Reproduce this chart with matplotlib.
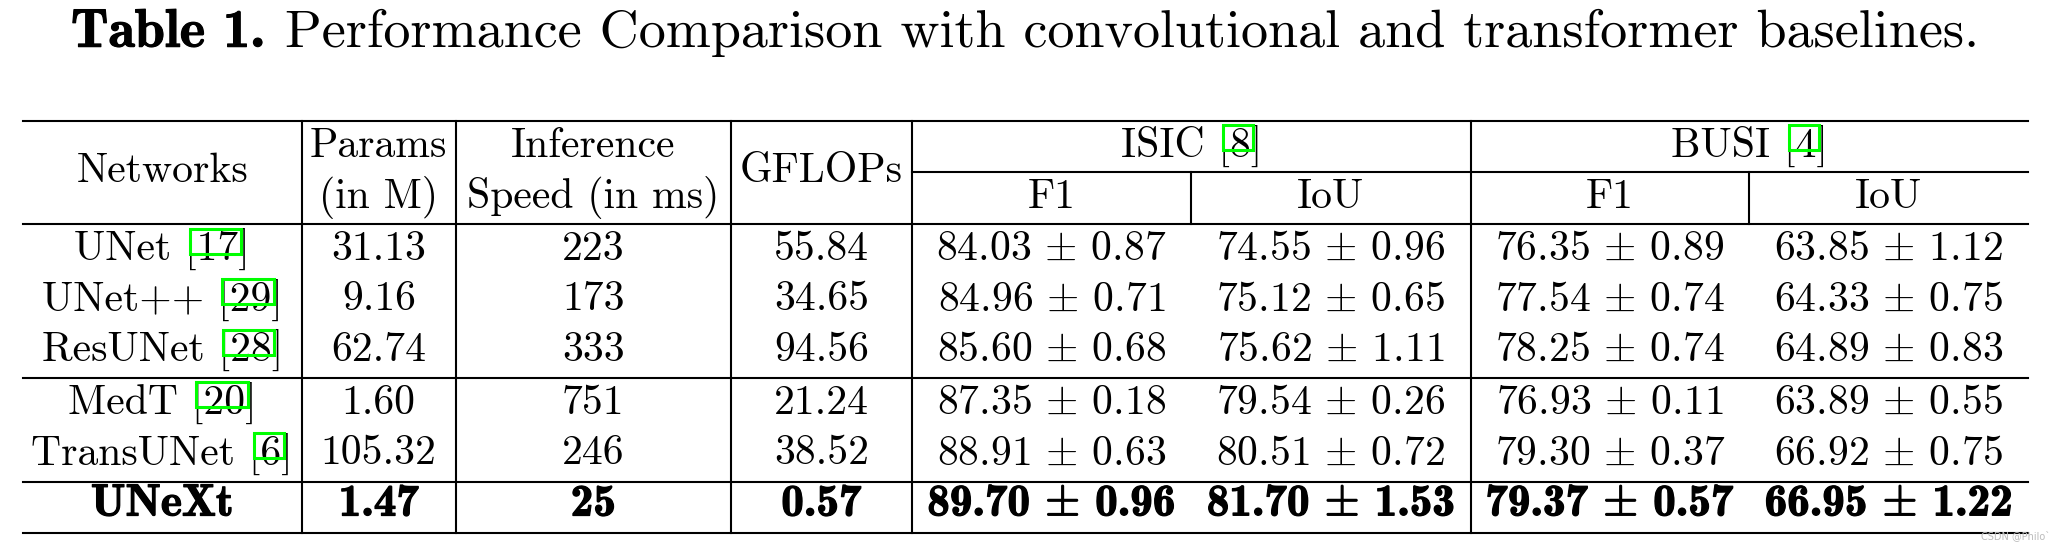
import matplotlib
matplotlib.use("Agg")
import matplotlib.pyplot as plt
import matplotlib.patheffects as pe
from matplotlib.patches import Rectangle

plt.rcParams["mathtext.fontset"] = "cm"

# table data
networks = ["UNet", "UNet++", "ResUNet", "MedT", "TransUNet", "UNeXt"]
refs = ["17", "29", "28", "20", "6", None]
params = ["31.13", "9.16", "62.74", "1.60", "105.32", "1.47"]
speed = ["223", "173", "333", "751", "246", "25"]
gflops = ["55.84", "34.65", "94.56", "21.24", "38.52", "0.57"]
isic_f1 = ["84.03 ± 0.87", "84.96 ± 0.71", "85.60 ± 0.68", "87.35 ± 0.18", "88.91 ± 0.63", "89.70 ± 0.96"]
isic_iou = ["74.55 ± 0.96", "75.12 ± 0.65", "75.62 ± 1.11", "79.54 ± 0.26", "80.51 ± 0.72", "81.70 ± 1.53"]
busi_f1 = ["76.35 ± 0.89", "77.54 ± 0.74", "78.25 ± 0.74", "76.93 ± 0.11", "79.30 ± 0.37", "79.37 ± 0.57"]
busi_iou = ["63.85 ± 1.12", "64.33 ± 0.75", "64.89 ± 0.83", "63.89 ± 0.55", "66.92 ± 0.75", "66.95 ± 1.22"]
datasets = [("ISIC", "8"), ("BUSI", "4")]
title_bold = "Table 1."
title_text = "Performance Comparison with convolutional and transformer baselines."

# layout in pixels
W, H = 2059, 544
col_x = [22.7, 301.7, 455.7, 730.7, 912, 1190.7, 1471, 1749, 2028]
y_top, y_mid, y_head, y_grp, y_last, y_bot = 120.7, 172, 224, 378, 481.7, 533.3
row_base = [260, 310.5, 361, 413.5, 464.5, 515.5]
FS = 30
FS_BOLD = 32.5
LW = 1.5
bold_fx = [pe.withStroke(linewidth=0.9, foreground="black")]

fig = plt.figure(figsize=(W / 100, H / 100), dpi=100)
ax = fig.add_axes([0, 0, 1, 1])
ax.set_xlim(0, W)
ax.set_ylim(H, 0)
ax.axis("off")


def pm(s):
    return s.replace("±", r"$\pm$")


def cell(x, y, s, bold=False, ha="center"):
    if bold:
        return ax.text(x, y, pm(s), ha=ha, va="baseline", fontsize=FS_BOLD,
                       family="cmb10", path_effects=bold_fx)
    return ax.text(x, y, pm(s), ha=ha, va="baseline", fontsize=FS, family="cmr10")


renderer = fig.canvas.get_renderer()


def width(s, family="cmr10", size=FS):
    t = ax.text(0, 0, pm(s), fontsize=size, family=family)
    w = t.get_window_extent(renderer).width
    t.remove()
    return w


def cite(x, y, name, ref):
    full = f"{name} [{ref}]"
    cell(x, y, full)
    x0 = x - width(full) / 2
    left = x0 + width(f"{name} [")
    right = x0 + width(f"{name} [{ref}")
    ax.add_patch(Rectangle((left - 7, y - 31.5), right - left + 9.5, 25,
                           fill=False, edgecolor="#00ff00", linewidth=2.2, zorder=5))


# rules
for y in [y_top, y_head, y_grp, y_last, y_bot]:
    ax.plot([col_x[0], col_x[-1]], [y, y], color="black", linewidth=LW)
ax.plot([col_x[4], col_x[-1]], [y_mid, y_mid], color="black", linewidth=LW)
for i in [1, 2, 3, 4, 6]:
    ax.plot([col_x[i], col_x[i]], [y_top, y_bot], color="black", linewidth=LW)
for i in [5, 7]:
    ax.plot([col_x[i], col_x[i]], [y_mid, y_head], color="black", linewidth=LW)

cx = [(col_x[i] + col_x[i + 1]) / 2 for i in range(len(col_x) - 1)]

# header
cell(cx[0], 181.7, "Networks")
cell(cx[1], 156.7, "Params")
cell(cx[1], 208, "(in M)")
cell(cx[2], 156.7, "Inference")
cell(cx[2], 208, "Speed (in ms)")
cell(cx[3], 181.7, "GFLOPs")
grp_x = [(col_x[4] + col_x[6]) / 2, (col_x[6] + col_x[8]) / 2]
for gx, (name, ref) in zip(grp_x, datasets):
    cite(gx, 156.7, name, ref)
for c in range(4, 8):
    cell(cx[c], 207.7, "F1" if c % 2 == 0 else "IoU")

# body
cols = [params, speed, gflops, isic_f1, isic_iou, busi_f1, busi_iou]
for r, name in enumerate(networks):
    y = row_base[r]
    bold = refs[r] is None
    if bold:
        cell(cx[0], y, name, bold=True)
    else:
        cite(cx[0], y, name, refs[r])
    for c, vals in enumerate(cols):
        cell(cx[c + 1], y, vals[r], bold=bold)

# caption
TS = 39
wb = width(title_bold, "cmb10", TS)
wr = width(title_text, "cmr10", TS)
gap = 20
x0 = 1025 - (wb + gap + wr) / 2
ax.text(x0, 46.7, title_bold, ha="left", va="baseline", fontsize=TS, family="cmb10",
        path_effects=[pe.withStroke(linewidth=0.8, foreground="black")])
ax.text(x0 + wb + gap, 46.7, title_text, ha="left", va="baseline", fontsize=TS, family="cmr10")

ax.text(2050, 541, "CSDN @Philo`", ha="right", va="bottom", fontsize=7, color="#bbbbbb")

fig.savefig("out.png", dpi=100)
print("done")
